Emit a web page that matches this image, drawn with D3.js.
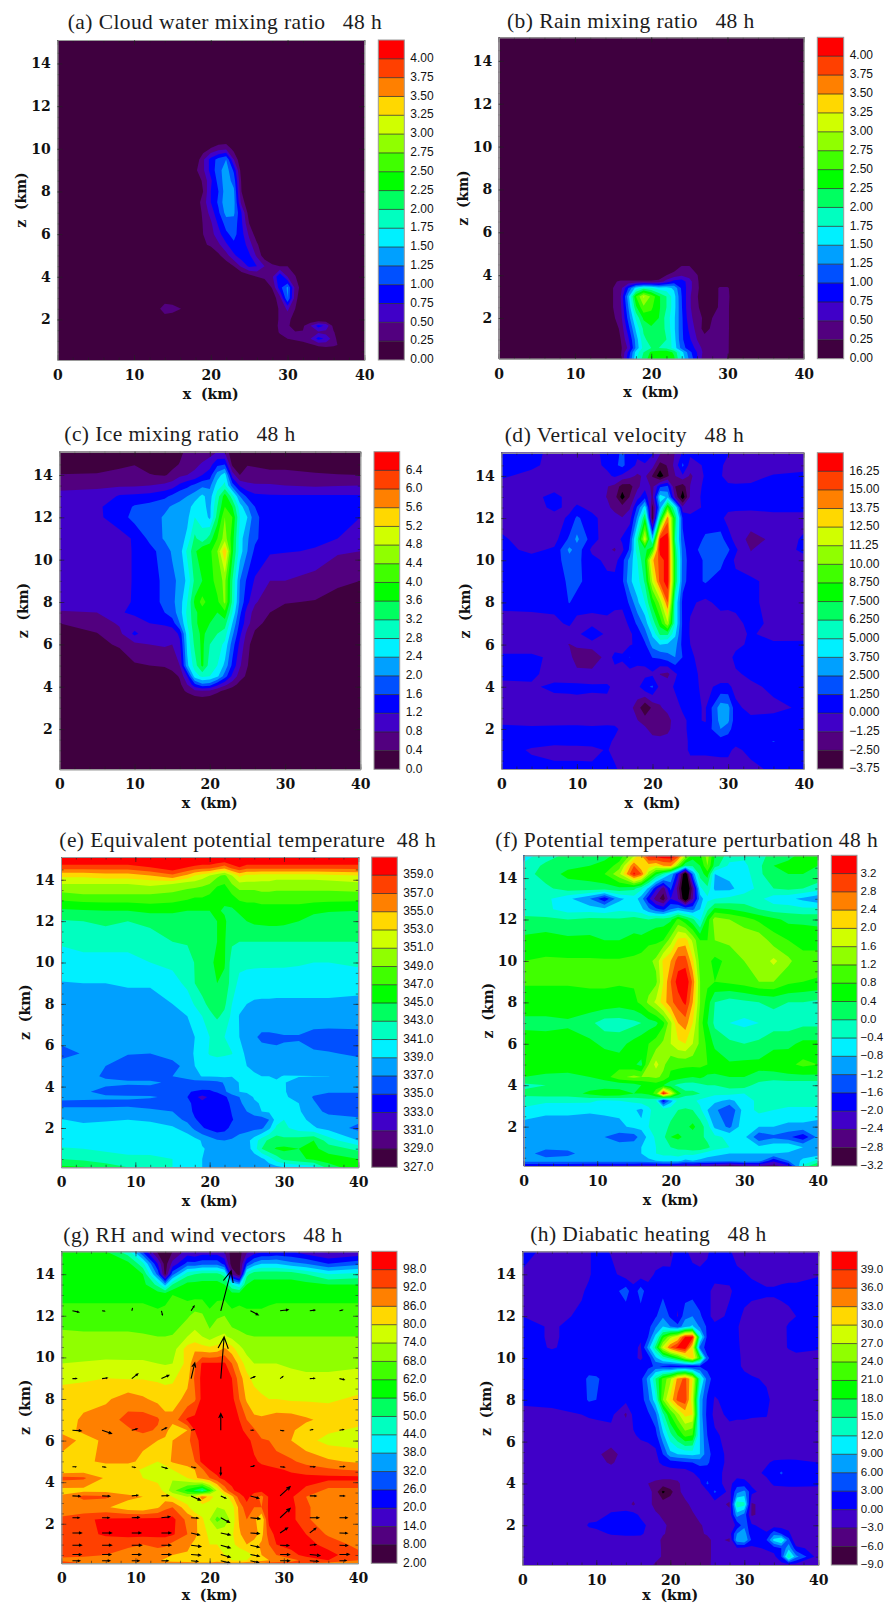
<!DOCTYPE html>
<html>
<head>
<meta charset="utf-8">
<script src="https://cdn.jsdelivr.net/npm/d3@7"></script>
<style>
  body { margin: 0; background: #fff; }
  svg { display: block; }
  .title { font-family: "Liberation Serif", serif; font-size: 21.5px; fill: #1c1c1c; white-space: pre; }
  .axis text, .axis-label { font-family: "DejaVu Serif", serif; font-weight: bold; font-size: 14px; fill: #111; }
  .axis-label { white-space: pre; }
  .axis line { stroke: #222; stroke-width: 0.6; }
  .axis path { stroke: #9a9a9a; stroke-width: 1; }
  .bar-label { font-family: "Liberation Sans", sans-serif; fill: #111; }
</style>
</head>
<body>
<svg id="chart" width="885" height="1604"></svg>
<script>
const bandColors = ["#3f003f", "#52007f", "#4000c8", "#0000ff", "#0050ff", "#00a0ff", "#00f0ff", "#00ffc0", "#00ff60",
    "#00ff00", "#40ff00", "#90ff00", "#d0ff00", "#ffd800", "#ff8000", "#ff4000", "#ff0000"];

// (a) cloud water
const titleA = "(a) Cloud water mixing ratio   48 h";
const labelsA = ["0.00","0.25","0.50","0.75","1.00","1.25","1.50","1.75","2.00","2.25","2.50","2.75","3.00","3.25","3.50","3.75","4.00"];
const xA = [0,13,14,15,18,19,20,21,22,23,24,25,26,27,28,29,30,31,32,33,34,35,36,37,40];
const zA = [15.1,10.5,10,9.5,9,8.5,8,7.5,7,6.5,6,5.5,5,4.5,4,3.5,3,2.5,2,1.7,1.4,1.1,.8,.5,.1];
const gridA = [
[0,0,0,0,0,0,0,0,0,0,0,0,0,0,0,0,0,0,0,0,0,0,0,0,0],
[0,0,0,0,0,0,0,0,0,0,0,0,0,0,0,0,0,0,0,0,0,0,0,0,0],
[0,0,0,0,0,.1,.27,.4,.45,.15,0,0,0,0,0,0,0,0,0,0,0,0,0,0,0],
[0,0,0,0,.05,.45,.85,1.1,1.25,.5,0,0,0,0,0,0,0,0,0,0,0,0,0,0,0],
[0,0,0,0,.2,.45,.85,1.15,1.4,.95,.1,0,0,0,0,0,0,0,0,0,0,0,0,0,0],
[0,0,0,0,.05,.3,.7,1.1,1.4,1.15,.2,0,0,0,0,0,0,0,0,0,0,0,0,0,0],
[0,0,0,0,0,.25,.75,1,1.4,1.3,.25,0,0,0,0,0,0,0,0,0,0,0,0,0,0],
[0,0,0,0,.1,.35,.75,1.05,1.45,1.35,.4,0,0,0,0,0,0,0,0,0,0,0,0,0,0],
[0,0,0,0,.05,.3,.6,.95,1.35,1.3,.75,.1,0,0,0,0,0,0,0,0,0,0,0,0,0],
[0,0,0,0,0,.27,.45,.8,1.1,1.15,.8,.25,0,0,0,0,0,0,0,0,0,0,0,0,0],
[0,0,0,0,0,.25,.4,.65,.95,1.08,.85,.45,.1,0,0,0,0,0,0,0,0,0,0,0,0],
[0,0,0,0,0,.2,.3,.45,.7,.95,.95,.6,.3,0,0,0,0,0,0,0,0,0,0,0,0],
[0,0,0,0,0,0,0,.2,.4,.7,.9,.8,.45,.1,0,0,0,0,0,0,0,0,0,0,0],
[0,0,0,0,0,0,0,0,.1,.25,.55,.8,.75,.5,.3,.25,.25,.1,0,0,0,0,0,0,0],
[0,0,0,0,0,0,0,0,0,0,0,.1,.25,.3,.45,1,.5,.27,0,0,0,0,0,0,0],
[0,0,0,0,0,0,0,0,0,0,0,0,0,.05,.27,.9,1.3,.4,.1,0,0,0,0,0,0],
[0,0,0,0,0,0,0,0,0,0,0,0,0,0,.1,.4,1.25,.35,0,0,0,0,0,0,0],
[0,.1,.48,.4,0,0,0,0,0,0,0,0,0,0,.05,.3,.55,.25,0,0,0,0,0,0,0],
[0,0,0,0,0,0,0,0,0,0,0,0,0,0,.05,.3,.35,.1,0,0,0,0,0,0,0],
[0,0,0,0,0,0,0,0,0,0,0,0,0,0,0,.35,.3,.1,.2,.5,.85,.7,.15,0,0],
[0,0,0,0,0,0,0,0,0,0,0,0,0,0,0,.3,.27,.27,.27,.35,.45,.4,.28,0,0],
[0,0,0,0,0,0,0,0,0,0,0,0,0,0,0,.1,.25,.3,.35,.5,.85,.7,.35,.05,0],
[0,0,0,0,0,0,0,0,0,0,0,0,0,0,0,0,.05,.1,.15,.2,.3,.35,.3,.2,0],
[0,0,0,0,0,0,0,0,0,0,0,0,0,0,0,0,0,0,0,0,0,0,0,0,0],
[0,0,0,0,0,0,0,0,0,0,0,0,0,0,0,0,0,0,0,0,0,0,0,0,0]];

// (b) rain
const titleB = "(b) Rain mixing ratio   48 h";
const labelsB = labelsA;
const xB = [0,15,16,17,18,19,20,21,22,23,24,25,26,27,28,29,30,31,32,40];
const zB = [15.1,4.8,4.4,4,3.7,3.4,3,2.5,2,1.5,1,.6,.4,.1];
const gridB = [
[0,0,0,0,0,0,0,0,0,0,0,0,0,0,0,0,0,0,0,0],
[0,0,0,0,0,0,0,0,0,0,0,0,0,0,0,0,0,0,0,0],
[0,0,0,0,0,0,0,0,0,.1,.27,.27,.05,0,0,0,0,0,0,0],
[0,0,0,0,0,0,0,0,.25,.35,.45,.4,.27,.05,0,0,0,0,0,0],
[0,.2,.3,.3,.3,.3,.3,.35,.6,.85,.9,.6,.3,.05,0,0,0,0,0,0],
[0,.25,.4,1,1.6,1.9,1.8,1.6,1.6,1.45,.95,.6,.3,.1,.05,.3,.3,.03,0,0],
[0,.25,.5,1.4,2.5,3.05,2.7,2.3,2,1.6,1,.55,.27,.1,.05,.3,.32,.05,0,0],
[0,.25,.45,1.25,2.2,2.7,2.55,2.3,2,1.6,1.02,.55,.3,.1,.1,.3,.3,.05,0,0],
[0,.2,.4,1.1,1.8,2.3,2.4,2.25,1.9,1.55,1.05,.6,.35,.2,.25,.32,.3,.05,0,0],
[0,.1,.3,.9,1.55,2.05,2.2,2.15,1.95,1.55,1.05,.7,.4,.15,.3,.35,.3,.05,0,0],
[0,0,.25,.7,1.35,1.95,2.1,2.1,2,1.6,1.05,.8,.5,.35,.45,.35,.3,.02,0,0],
[0,0,.2,.55,1.3,1.85,2,2,1.95,1.65,1.15,.85,.7,.35,.5,.35,.3,0,0,0],
[0,0,.2,.8,1.6,2,2.3,2.4,2.4,2.2,1.6,1.1,.75,.4,.35,.3,.3,0,0,0],
[0,0,.25,.9,1.7,2.1,2.4,2.5,2.5,2.3,1.7,1.2,.8,.3,.35,.3,.25,0,0,0]];

// (c) ice
const titleC = "(c) Ice mixing ratio   48 h";
const labelsC = ["0.0","0.4","0.8","1.2","1.6","2.0","2.4","2.8","3.2","3.6","4.0","4.4","4.8","5.2","5.6","6.0","6.4"];
const xC = [0,5,8,10,12,14,15,16,17,18,19,20,21,22,23,24,25,26,28,30,34,37,40];
const zC = [15.1,14.5,14,13.5,13,12.5,12,11,10.4,9,8,7.5,7,6.5,6,5,4.5,4.1,3.8,3.4,.1];
const gridC = [
[0,0,0,0,0,0,.1,.3,.5,.5,.55,.6,.8,.7,.1,0,0,0,0,0,0,0,0],
[.1,.15,.3,.38,.25,.2,.3,.42,.55,.7,.85,1.05,1.5,1.6,.3,.3,.38,.35,.3,.3,.2,.15,.1],
[.42,.45,.55,.6,.42,.36,.5,.7,.8,.9,1.2,1.4,2.2,2.6,1,.4,.55,.55,.5,.5,.45,.42,.4],
[.75,.75,.75,.75,.8,.9,1,1.3,1.5,1.7,1.9,1.9,2.6,2.9,1.8,1.15,.9,.85,.85,.8,.75,.78,.8],
[.85,.9,1.25,1.3,1.35,1.5,1.7,1.9,2,2.2,2.5,2.2,3,3.8,3,2,1.5,1.3,1.25,1.25,1.25,1.25,1.25],
[.9,1.15,1.35,1.65,1.75,1.9,2.05,2.1,2.2,2.6,2.5,2.3,3.2,4,3.6,2.6,2.05,1.6,1.3,1.3,1.3,1.3,1.3],
[.9,1.12,1.4,1.75,1.8,2.05,2.1,2.1,2.3,2.8,2.7,2.3,3.4,4.4,4,2.8,2.4,1.7,1.35,1.3,1.25,1.22,1.2],
[.9,.95,1.05,1.25,1.7,2.05,2.1,2.2,2.5,3.3,2.9,3.4,4,4.6,3.8,2.6,2.05,1.7,1.25,1.25,1.25,1.2,.9],
[.9,.95,1,1.25,1.45,1.8,2.05,2.2,2.9,3.5,4,3.9,4.4,5.6,3.7,2.6,2,1.5,1.25,1.22,1.18,.85,.8],
[.9,.95,1,1.25,1.5,1.65,1.9,2.1,2.5,3.3,3.6,3.8,4.2,4.5,3.2,2,1.5,1.15,.8,.8,.6,.45,.4],
[.9,.95,1.05,1.25,1.5,1.65,1.9,2.2,2.8,3.7,4.15,3.8,3.9,4.5,3.1,1.9,1.3,.85,.55,.42,.38,.3,.2],
[.78,.8,1.15,1.3,1.4,1.6,1.8,2.2,2.9,3.5,3.8,3.7,3.6,3.9,2.8,1.7,1,.65,.4,.3,.2,.1,0],
[.4,.6,.85,.95,1.2,1.3,1.4,2,2.8,3.5,3.8,3.6,3.5,3.4,2.4,1.5,.95,.5,.3,.1,0,0,0],
[.3,.38,.7,1.3,.9,.85,.9,1.3,2.6,3.4,3.7,3.4,3.2,3,2.1,1.3,.65,.35,.1,0,0,0,0],
[.1,.3,.45,.7,.8,.85,.8,1.1,2.5,3.3,3.7,3.2,3,2.7,1.8,1.1,.5,.2,0,0,0,0,0],
[0,.05,.15,.35,.4,.45,.6,.8,2.3,3,3.7,3,2.8,2.3,1.5,.85,.42,.1,0,0,0,0,0],
[0,0,0,0,0,.1,.2,.45,1.2,2.6,2.9,2.8,2.5,1.8,1.1,.6,.3,0,0,0,0,0,0],
[0,0,0,0,0,0,0,.3,.8,1.5,1.9,1.8,1.3,.9,.6,.25,0,0,0,0,0,0,0],
[0,0,0,0,0,0,0,.2,.5,.7,.75,.7,.5,.3,.1,0,0,0,0,0,0,0,0],
[0,0,0,0,0,0,0,0,.05,.2,.25,.2,.1,0,0,0,0,0,0,0,0,0,0],
[0,0,0,0,0,0,0,0,0,0,0,0,0,0,0,0,0,0,0,0,0,0,0]];

// (d) vertical velocity
const titleD = "(d) Vertical velocity   48 h";
const labelsD = ["−3.75","−2.50","−1.25","0.000","1.250","2.500","3.750","5.000","6.250","7.500","8.750","10.00","11.25","12.50","13.75","15.00","16.25"];
const xD = [0,4,7,9,10,12,14,15,16,17,18,19,20,21,22,23,24,25,27,29,30,31,33,36,40];
const zD = [15.1,14.5,14,13.5,13,12.5,12,11,10.5,10,9,8,7,6.5,6,5.4,4.6,4,3,2.4,2,1.4,1,.1];
const gridD = [
[.5,.5,-.5,-.5,-.5,-.3,.3,.8,1.5,.6,.2,1.5,.2,-1,-2,-1.2,.2,.3,.4,.2,.1,-.3,-.5,-.5,-.5],
[.5,.3,-.5,-.6,-.6,-.5,.3,1,1.6,.5,-.2,-.3,-.8,-3,-2.4,-.8,1.5,-.6,.2,.2,-.4,-.6,-.7,-.7,-.6],
[.2,-.4,-.6,-.6,-.6,-.5,-.3,.2,-.3,-.8,-1.5,-1,-2.6,-4.6,-2.7,-1.3,-.2,-1.5,.2,.1,-.4,-.6,-.4,.1,.4],
[-.5,-.6,-.6,-.5,-.4,-.5,-1.2,-1.6,-3.1,-3,-1.6,-.4,-1.6,1,1.5,-2.5,-3.2,-1.2,.4,.3,.2,.2,.2,.4,.4],
[-.6,-.5,.5,-.5,-.5,-.6,-1.3,-2,-4.4,-2.4,-.5,.8,-1.6,4.5,3.5,-1.5,-4.6,-1,.5,.4,.3,.3,.4,.4,.4],
[-.6,-.6,.3,-.3,.2,-.3,-1,-1.6,-1.9,-1.4,1.5,4.5,-3,3,9,5,-.8,-.5,.2,.3,.3,.2,.2,.4,.4],
[-.5,-.6,-.5,.2,1.5,.3,-.5,-.8,-1.2,-.5,2.8,7.5,-3.4,6.5,14.5,7,1,.3,.5,.3,-.4,-.4,-.5,-.5,-.5],
[.2,-.6,-.5,1.5,2.8,.6,-.8,-.6,.2,1.2,6,12,3.8,16.5,17,6,1.5,.2,1.5,1.8,.5,-.4,-1.7,-1,.2],
[.4,-.3,.2,2.8,2,-.3,-1,-1.4,-.3,1.5,6,7,9,17,17,7,1.8,.5,2,2.3,1.5,.2,-1.3,-.6,.2],
[.5,.5,.6,2,1.6,.4,-.3,-.5,.8,3,5,7.5,13.5,15.5,17,7.5,2,.6,1.4,1.8,.6,-.2,-1,-.5,-.3],
[.5,.5,.5,1.5,1.6,.6,.3,.4,1,3.5,4.5,6.5,11.5,15.5,17,7.5,1.8,.6,1.4,.5,.4,.3,.3,-.5,-.5],
[.4,.5,.4,1.3,.8,.4,1,.7,.3,1.5,3.5,5,8,10.5,15,5,.8,.2,-.3,.4,.4,.4,.3,-.5,-.5],
[-.6,-.6,-.3,.2,-.5,-.4,-.6,-1.2,-.6,.3,1.5,3,5.5,8,11,5,.9,-.1,-.5,-.6,-.7,-.4,.4,-.3,-.5],
[-.8,-.8,-.7,-.6,-.4,1.2,-.4,-.5,-.5,-.2,.5,2,4,6.5,6.5,4,.8,-.1,-.6,-.7,-.7,-.6,.2,-.6,-.5],
[-.8,-.8,-.7,-1.3,-1,-.7,-.5,-.6,-.5,-.1,.2,1,3,3.8,3.5,3,.8,0,-.7,-.8,-.8,-.4,.3,.3,.3],
[.3,.3,-.3,-.8,-2,-2.2,-.7,.4,.2,1.3,.3,.5,1.3,1.5,2,2.5,1.2,.3,-.8,-.7,-.5,.4,.4,.4,.4],
[.3,.3,-.6,-.7,-.8,-.8,-.7,-.5,-.6,-.6,-.3,-.4,-.2,-1.3,-1.6,-.2,.6,.3,-.3,-.7,-.7,-.2,.3,.4,.4],
[-.3,-.2,.3,.3,.3,.2,.2,-.3,-.5,-.6,-.4,1,1.4,-.4,-.5,.2,.3,.4,-.3,.3,.3,-.4,-.3,.3,.4],
[-.7,-.7,-.7,-.6,-.5,-.5,-.4,-.4,-.6,-.9,-1.8,-3.7,-2.2,-1.4,-.8,-.5,.2,.3,-.1,3.2,3,.3,-.4,-.3,.2],
[-.3,-.4,-.6,-.5,-.5,-.8,-.5,-.5,-.6,-.7,-1.2,-1.8,-2.2,-2,-1.8,-.6,-.3,.3,-.1,3,2.8,.4,.3,.4,.4],
[.3,.2,.4,.4,.4,.4,.4,.3,-.3,-.5,-.7,-1,-1.8,-2,-1.6,-.6,-.4,.4,.4,2.5,1.8,.4,.4,.4,.3],
[.4,.3,.3,.4,.4,.4,.3,-.2,-.3,-.5,-.5,-.6,-.7,-.7,-.7,-.5,-.4,.2,.4,.6,.5,.4,.6,1.3,.4],
[.4,-.1,-.4,-.4,-.4,-.3,.1,-.4,-.5,-.5,-.5,-.6,-.6,-.6,-.6,-.4,-.4,.2,.2,.3,.3,-.3,.4,.5,.4],
[.3,.3,.3,.3,.3,.2,.3,.2,-.4,-.5,-.5,-.5,-.5,-.5,-.5,-.5,-.5,-.5,-.5,-.5,-.5,-.3,-.4,.3,.4]];

// (e) equivalent potential temperature
const titleE = "(e) Equivalent potential temperature  48 h";
const labelsE = ["327.0","329.0","331.0","333.0","335.0","337.0","339.0","341.0","343.0","345.0","347.0","349.0","351.0","353.0","355.0","357.0","359.0"];
const xE = [0,3,6,9,12,15,17,18,19,20,21,22,23,24,25,26,27,28,29,30,32,34,36,40];
const zE = [15.1,14.6,14.2,13.8,13.3,12.5,12,11,10,9,8,7.4,6.4,5.6,5,4.5,4.2,3.75,3.5,3.2,2.8,2.4,2,1.4,1,.5,.1];
const gridE = [
[362,362,362,362,362,362,362,362,362,362,362,362,362,362,362,362,362,362,362,362,362,362,362,362],
[358,358,358,358,359,360.5,359,358.5,358,358,357,356,358,359,358,358,358,358,358,358,358,358,358,358],
[353.5,353.5,354,354,355,356.5,354.5,353,352,351,349.5,348.5,351,353.5,352.5,352.5,352,352,352,352,352,352,352.5,353],
[351,351,351,351,351.5,351,350,350,349.5,349,347.5,347,349,350.5,350.5,350.5,350.5,350.5,350,350,350,350,350,350.5],
[348.5,349,349,349,349,348.5,348,347.5,347.5,347,345.5,345.5,347,348,348,348,348.5,348.5,348.5,348.5,348.5,348.5,348.5,348.5],
[344.6,344.8,345,345,345.5,345.5,345,345,345,345,345.2,344.8,344.5,345.5,346,346,346,346,346,346,346,345.5,345.2,345],
[342.8,343,343.5,343,343.5,343.5,344,344,344,344,345,345.3,344,344,345,345.4,345.5,345.6,345.6,345.5,345,344,343.5,343.2],
[341.2,341.5,341.5,341.5,342,343,343.2,343.3,343.5,343.7,345,345.2,343.3,343,343,343,343,343,343,343,343,343,343,343],
[340.2,340.5,340.5,340.5,341,341.5,342,343.1,343.6,344.8,345.2,345.2,342,341.5,341.5,341.5,341.5,341.5,341.5,341.5,341.3,341,341,341.5],
[338.9,339,339,339.2,339.2,340.2,341.5,343,343.8,344.2,345,344.5,342,340.5,340,339.8,339.6,339.6,339.5,339.5,339.5,339.5,339.5,339.3],
[338.2,338.3,338.3,338.3,338.3,339,340,341.2,342.5,343.5,344,343.4,341,339.5,339,338.8,338.8,338.8,338.8,338.8,338.8,338.8,338.8,338.8],
[337,337,337.1,337,337,337.3,339,340,341,342.5,343.3,342.5,340.5,338.9,338.2,338,338,338,338,338,338,338,338,338],
[337.5,337.5,337.5,337.6,337.6,337.6,338,339,340,341,341.4,341,340,339,337.8,337.2,336.7,336.7,336.8,336.9,336.9,336.4,336.3,336.4],
[336.5,337.1,337.5,337.1,337,337.6,338.2,339.2,340,341.2,341.5,341.3,341.1,339.5,338.7,338,337.6,337.4,337.2,337.2,337.3,337.2,337.1,336.8],
[337.6,337.5,337,336,335.7,336.5,337.5,339,339.5,339.7,339.8,339.8,339.5,339.2,339,338.7,338.2,337.8,337.6,337.6,337.5,337.5,337.5,337.5],
[337.6,337.5,336.8,336.5,336.5,337,337.5,338.5,339.1,339.1,339.2,339.3,339.1,341.1,339.3,339.2,339,339,338.8,339.1,339.1,339.05,339.02,338.5],
[337.3,337.3,337.3,337.2,337.2,336.8,336.4,336.2,336.1,336.2,336.4,337.2,338,339.1,339.3,339.2,339.2,339,339.2,339.1,338.3,338,338,338],
[337.4,337.2,336.6,336.4,336.5,336.5,335.1,334.9,334.7,334.7,335.2,336.7,337.9,339,339.3,339.2,339.3,339.1,339.2,339.1,338.4,337.6,337.2,337.2],
[337.4,337.3,337.2,337.2,337.1,336.8,335,333.4,332.4,333.3,333.5,334.5,336.2,337,338,339.2,339.5,339.3,339.1,339.2,338.5,336.8,336,336],
[336.7,336.7,336.7,336.7,336.6,336.9,336,334,333.5,333.4,333.5,333.8,335.7,336.7,337.6,338.7,339.2,339.3,339.3,339.2,339,337.2,336,335.8],
[337.3,337.3,337.3,337.4,337.2,337,336,334.5,333.6,333.4,333.3,333.4,335.2,336.3,337,338,339,339.3,339.2,339.2,339.2,337.8,336.4,335.6],
[339.1,338.6,338.8,339,338.8,337.9,336.5,335.2,334.4,333.8,333.3,333.4,334.8,336,336,336,335.9,337,340,341,339.5,338.5,338,337.6],
[339.5,339.6,339.7,339.7,339.6,339.3,338,336.5,335.2,334.4,333.8,334.2,335.7,336.5,336.3,336.4,336.6,338.5,341.5,341.5,340,339.2,338.3,336.4],
[340,340,340,340,340,340,340.3,339.7,338.8,338,337.2,337,337.2,337.5,338.3,340,342,343.5,344,343.5,344,345,342,339],
[341.2,341,340.6,340.3,340.2,340,339.8,339.5,339.1,338.8,338.5,338,337.6,337.3,338,340,343,344.5,345.2,345.5,345,345.5,344,342.5],
[343,342.5,342,341.5,341.5,341,340,339.5,339,338.5,338.3,338.2,338,337.7,337.5,337.8,338.5,340,342,343.5,344.5,345.5,346,345],
[345.5,345.2,344,343,342,341,340.2,339.5,339,338.7,338.3,338,337.8,337.6,337.5,337.6,337.8,338,338.5,339,339.5,340,344,346.5]];

// (f) potential temperature perturbation
const titleF = "(f) Potential temperature perturbation 48 h";
const labelsF = ["−3.2","−2.8","−2.4","−2.0","−1.6","−1.2","−0.8","−0.4","0.0","0.4","0.8","1.2","1.6","2.0","2.4","2.8","3.2"];
const xF = [0,3,6,9,11,13,15,16,17,18,19,20,21,22,23,24,25,26,28,30,32,34,36,38,40];
const zF = [15.1,14.6,14.2,13.5,13,12.5,12,11,10,9,8,7,6,5,4.4,4,3.6,3.25,2.8,2,1.5,1,.7,.35,.1];
const gridF = [
[-.6,-.2,.1,.3,.3,.5,1.5,2.4,3.4,3.5,3.5,3.5,3.2,1.6,.6,.7,1.4,.4,-.2,-.3,-.2,.2,.3,.5,.4],
[-.3,.1,.3,.4,.5,1,2.8,2,2.2,2,2.4,2.5,1.2,0,.1,.4,1.2,.2,-.5,-.5,-.1,.4,.5,.5,.4],
[-.2,.2,.5,.6,.8,1.5,3.3,2.8,1.4,.5,-.1,-.8,-1.9,-3.8,-1.2,.2,.6,-.8,-.7,-.6,-.1,.3,.4,.4,.3],
[0,-.1,.2,.2,.2,.3,.1,-.3,-.9,-1.9,-2.6,-1.5,-2.6,-4,-2.6,-.5,-.1,-.9,-.9,-.6,-.3,0,.1,0,-.2],
[-.1,-.3,-.7,-1.2,-1.9,-.9,-.6,-1,-1.9,-2.6,-3,-2,-2.4,-3.7,-2.4,-1,-.5,-.4,-.3,-.2,-.3,-.6,-.7,-.9,-1.1],
[-.2,-.3,-.6,-.6,-.7,-.5,-.6,-.7,-1.1,-1.5,-1.7,-1.2,-1,-1.2,-1.3,-.8,-.1,.5,.4,.2,0,-.2,-.2,-.3,-.3],
[.1,.1,0,.1,.1,.05,.2,.1,0,.2,.2,.3,.9,.5,.1,-.5,.6,1.4,1.2,1,.7,.5,.3,.3,.3],
[.5,.6,.5,.5,.4,.4,.5,.5,.7,.7,.8,1.4,2.1,2.2,1.5,.8,.8,1.2,1.3,1.5,1.5,1,.8,.7,.6],
[.8,.85,.85,.85,.85,.85,.9,1,1.1,1.3,2.1,2.4,3,3,2.1,1,.9,.7,.9,1.2,1.3,1.7,1.3,.9,1],
[.85,.85,.85,.85,.85,.85,.85,.9,1,1.1,2,2.8,3.4,3.6,2.7,1.2,.9,.8,.9,1,1.2,1.2,.9,.8,.75],
[.6,.6,.6,.7,.7,.6,.7,.9,1.3,1.7,2.2,2.7,3,3.3,2.4,1.2,.6,0,-.2,-.1,0,.1,0,0,-.1],
[.3,.3,.35,.1,-.2,-.2,-.1,0,.2,.3,.7,1.5,2.4,2.6,2,1,.4,-.1,-.4,-.5,-.4,-.2,-.2,-.1,-.1],
[.6,.55,.55,.5,.3,.25,.55,.7,.8,1,1.3,1.6,1.9,2,1.6,1.1,.7,.3,.1,0,.1,.3,.3,.5,.5],
[.7,.7,.6,.6,.7,.6,.45,.3,1.2,1.75,1.3,.9,.9,.9,.9,.9,.8,.7,.45,.5,.5,.65,.7,.9,.8],
[.4,.3,.3,.4,.6,1.1,1.3,1.2,1.2,1.3,1.1,.7,.6,.5,.4,.5,.3,.3,.4,.4,.3,.2,.3,.3,.3],
[-.1,0,0,.2,.1,.1,.2,.4,.5,.6,.4,.1,-.1,-.2,-.2,-.1,0,0,.2,.2,-.2,-.3,-.3,-.3,-.3],
[.1,.2,.2,.5,.8,.7,.4,.4,.5,1,3.4,2,.6,.1,.1,0,-.2,-.3,-.3,-.4,-.3,-.2,-.1,-.1,-.1],
[-.2,-.3,-.3,-.3,-.5,-.4,-.3,-.2,-.2,-.4,-1.9,-1,-.3,-.2,-.3,-.5,-.6,-.7,-.9,-.6,-.3,-.2,-.2,-.2,-.2],
[-.5,-.7,-.7,-.75,-.75,-.7,-.75,-.9,-.5,-.2,-.1,-.1,0,.05,0,-.3,-.8,-1.1,-1.6,-.6,-.3,-.4,-.5,-.5,-.5],
[-1,-1,-1,-1,-.9,-.9,-.7,-.7,-.4,-.3,-.1,.05,.2,.3,.5,.2,-.2,-.9,-1.3,-.5,-.8,-.8,-.9,-.9,-1],
[-1.1,-1.1,-1.1,-1.1,-1.2,-1.4,-1.4,-1,-.7,-.3,-.1,.4,.5,.3,.2,.1,-.1,-.3,-.5,-.7,-1.5,-1.3,-1.5,-1.9,-1.1],
[-1.1,-1.1,-1.1,-1.1,-1.1,-1,-.9,-.8,-.6,-.4,-.2,0,.1,.2,.3,.3,.1,-.2,-.4,-.5,-.7,-.5,-.4,-.8,-1],
[-1,-1.4,-1.3,-1,-1,-1,-1,-.8,-.6,-.4,-.3,-.3,-.2,-.3,-.3,-.4,-.6,-.7,-.8,-.8,-.8,-.8,-.9,-1,-1],
[-1,-1,-1,-1,-1,-1,-1,-1,-.9,-.8,-.7,-.7,-.7,-.9,-.8,-.9,-1,-1,-1,-.9,-1,-1.9,-1.2,-.7,-.3],
[-2,-2,-2,-2.1,-2.1,-2.1,-2.1,-2.2,-2.2,-2.2,-2.2,-2.2,-2.3,-2.4,-2.4,-2.5,-2.5,-2.6,-2.9,-2.6,-2.4,-2.6,-2.1,-.3,.5]];

// (g) RH and wind vectors
const titleG = "(g) RH and wind vectors   48 h";
const labelsG = ["2.00","8.00","14.0","20.0","26.0","32.0","38.0","44.0","50.0","56.0","62.0","68.0","74.0","80.0","86.0","92.0","98.0"];
const xG = [0,3,6,9,11,13,14,15,17,18,19,20,21,22,23,24,25,26,27,28,29,31,33,36,40];
const zG = [15.1,14.5,14,13.5,13,12,11,10.4,9.7,9,8,7,6.5,6,5,4.6,4.2,3.6,3.3,2.8,2.2,1.5,1,.5,.25,.1];
const gridG = [
[58,58,56,46,25,6,5,8,16,14,16,16,16,14,5,6,12,16,18,18,20,20,16,12,14],
[58,58,58,58,46,20,5,16,28,28,30,30,30,24,4,6,26,34,38,38,38,34,32,26,30],
[58,58,58,58,56,30,6,30,48,50,52,52,52,48,14,5,48,54,54,54,54,54,50,44,46],
[58,58,58,58,58,48,36,50,58,58,58,58,58,56,44,38,56,58,58,58,58,58,58,56,56],
[60,60,60,60,60,60,61,62,60,60,60,60,60,60,60,61,60,60,60,60,60,60,60,60,60],
[65,65,65,65,65,63,63,63,67,70,69,63,67,68,63,63,63,63,63,64,65,65,65,65,65],
[69.5,69,69,69,68.5,68,68,68.5,74,76,74,71,74,75,72,70,68.5,68,68,68,68,68,68,68,68],
[71,71,71.5,71,71,70.5,70,71,83,85,83,82,83,87,83,76,72,71,71,71,71,71,71,71,71],
[74,74.5,75,75,75,74,73.5,74,82,91,99,99,99,99,92,84,77,74,74,74,74,73,72,72,73],
[78.5,79,80,79.5,79.5,79,78.5,79,84,93,100,100,100,100,98,89,82,78,77,76.5,76.5,76,75.5,75.5,76],
[83,84,85,89,87,84,83,83,88,91,100,100,100,100,100,92,85,83,81,80,80,79,79,79,81],
[83,87,89,94,95,93,88,88,99,100,100,100,100,100,100,98,92,87,87,88,89,89,87,84,82],
[84,87,88,91,94,91,88,83,86,98,100,100,100,100,100,100,96,93,88,86,86,87,83,81,79],
[90,84,87,87,87,86,85,86,90,96,100,100,100,100,100,100,100,96,93,92,90,86,82,78,77],
[83,85,87,87,85,80,83,87,90,92,100,100,100,100,100,100,100,99,97,95,94,93,90,87,85],
[80,82,83,83,79,76,77,80,83,86,91,98,100,100,100,100,100,100,100,100,99,97,95,93,91],
[94,93,85,82,80,78,75,75,80,85,88,92,97,100,100,100,100,100,100,100,100,100,100,100,100],
[84,84,84,82,83,83,78,70,60,55,48,60,75,88,97,100,100,100,100,100,100,100,97,90,90],
[87,94,93,88,86,84,83,80,74,78,90,84,76,76,84,95,100,95,90,99,100,99,92,89,89],
[86,87,87,82,81,85,90,92,82,74,76,74,74,75,77,88,96,92,92,99,100,100,93,88,88],
[94,97,99,100,100,100,100,100,90,88,81,74,66,70,76,87,92,88,80,100,100,100,93,88,88],
[94,96,99,100,100,100,100,99,92,88,82,79,78,78,79,85,90,88,84,95,100,100,98,91,87],
[93,94,94,93,92,93,93,90,88,84,82,80,80,79,78,83,86,84,87,92,98,100,100,96,90],
[93,93,92,90,90,90,88,86,85,83,81,80,80,80,77,74,77,81,86,88,92,96,100,100,94],
[91,90,89,88,87,87,85,84,83,82,81,81,82,82,80,79,80,82,84,86,88,90,94,98,92],
[94,92,90,88,88,88,88,88,88,88,88,88,90,88,88,88,90,92,92,94,94,94,92,90,90]];
const windX = [1.5,5.5,9.5,13.5,17.5,21.5,25.5,29.5,33.5,37.5];
const windZ = [12.24,8.98,6.5,4.74,3.34,2.29,1.56,.97,.52,.22];
const windU = [
[19,7,2,3,9,31,23,24,15,9],
[12,15,18,22,11,10,13,8,14,14],
[26,28,16,15,9,0,8,10,8,12],
[10,10,10,17,13,0,11,13,15,15],
[23,23,18,21,28,15,25,30,19,15],
[20,21,22,25,21,26,28,30,27,23],
[27,28,27,28,25,28,26,22,18,23],
[27,28,29,28,29,28,26,26,18,24],
[26,26,27,28,28,28,26,28,30,29],
[22,23,22,20,20,28,24,28,25,20]];
const windW = [
[-4,-1,6,-12,14,120,-12,3,2,2],
[0,2,14,10,47,125,6,6,1,-3],
[-2,-10,4,7,2,50,0,-2,2,2],
[0,-1,-2,-5,-3,-24,3,-1,0,1],
[-1,-1,2,1,-13,-7,-7,28,0,0],
[0,0,1,3,-1,-14,-3,28,0,0],
[0,0,0,0,-6,-6,-2,15,14,-1],
[0,0,0,0,-4,-8,-6,-1,2,-1],
[0,0,0,0,-2,-8,-5,0,-3,1],
[0,0,0,0,-2,-7,-5,0,-2,1]];

// (h) diabatic heating
const titleH = "(h) Diabatic heating   48 h";
const labelsH = ["−9.0","−6.0","−3.0","0.00","3.00","6.00","9.00","12.0","15.0","18.0","21.0","24.0","27.0","30.0","33.0","36.0","39.0"];
const xH = [0,4,8,9,10,12,14,15,16,17,18,19,20,21,22,23,24,25,26,28,29,30,31,33,34,35,36,37,40];
const zH = [15.1,14,13.2,12,11.5,11,10.5,10,9.6,9,8,7.3,6.3,5.4,5,4.5,4,3.6,3,2.5,2,1.6,1.3,.9,.5,.1];
const gridH = [
[1,-1,-1.5,-.5,1.5,-.3,-1.5,-1.5,-1.5,-1.5,-1.5,-1.5,-1,1,.5,-1,-1,-.5,1.5,.3,-1,-1.5,-1.5,-1.5,-1.5,-1.5,-1.5,-1.5,-1.5],
[-.3,-1.5,-1.5,-.5,1.5,1,-1.5,-1.5,-1.5,-1,.3,.8,.5,1,1.5,1,.5,1,1.2,1,.6,.2,-.4,-1.5,-1.5,-1.5,-1.5,-1.5,-.3],
[-1.5,-1.5,-.5,.8,1.3,1.3,4.5,1,4.5,1.2,1.5,2,1.5,1,1.2,1.5,1,.8,-1,-.5,1,1,1,.5,.5,1,1.5,1.5,1.5],
[0,-1.5,.8,1.5,1.5,1.5,1,1.2,1.5,1.5,2.5,5.5,2.5,-.3,5,6,3.5,1.2,-1.5,.8,.8,-.5,-1.5,-1.5,-1.5,-1.5,-1,0,1.5],
[1.5,-.5,1.5,1.5,1.5,1.5,1.2,.5,.6,1.8,5.5,9,6,4,8,9.5,5.5,2.5,1.2,.8,.3,-1,-1.5,-1.5,-1.5,-1.2,.5,1,1.5],
[1.5,-.5,1.5,1.5,1.5,1.5,1.2,.5,.3,3,10,20,26,30,39,40,13,2,1.2,.8,.4,-1,-1.5,-1.5,-1.5,-1.1,.4,.8,1],
[1.5,-.3,1.5,1.5,1.5,1.5,1.2,.5,-.3,7,16,28,36,40,41,30,5,1.5,1,.8,.5,-.8,-1.5,-1.5,-1.5,-1,.3,.5,.5],
[1.5,1.5,1.5,1.5,1.5,1,.8,.4,-.3,1,8,13,16,20,26,32,20,3.5,1.5,.8,.5,-.5,-1.5,-1.5,-1.5,-1.5,-1.5,-.5,-1.5],
[1.5,1.5,1.5,1.5,1.5,1,.8,.6,.8,2,3.5,2.5,1.5,1.5,1.5,.8,2.5,2,1.5,.8,.6,-.5,-1.5,-1.5,-1.5,-1.5,-1.5,-1.5,-1.5],
[1.5,1.5,2,3.6,3.4,1.5,1.2,1.5,2,7,15,22,26,34,37,30,14,4.5,1.5,.9,.8,.8,.5,-.5,-1.5,-1.5,-1.5,-1.5,-1.5],
[1,1.5,1.8,3.4,3,1.5,1,1,1.5,5,11,24,31,37,38,28,8,2.5,-.3,1,1.5,1.5,1.5,.8,-1,-1.5,-1.5,-1.5,-1.5],
[-1.5,-1.2,0,.3,.5,.8,-3.5,.8,1.5,2.5,5,14,21,26,31,30,8,2,-.8,.5,.5,.5,.3,.2,-1.5,-1.5,-1.5,-1.5,-1.5],
[-1.5,-1.5,-1.5,-1.5,-1.5,-1.2,-.5,-.3,.5,1,1.8,8,14,18,22,21,9,3,.5,-1,-1.5,-1.5,-1.5,-1.5,-1.5,-1.5,-1.5,-1.5,-1.5],
[-1.5,-1.5,-1.5,-1.5,-2.5,-4,-1.8,-1.5,-1.5,-1.5,-.8,3,8,9,9.5,10,9,4,1.8,-1,-1.5,-1.5,-1.5,-1.5,-1.5,-1.5,-1.5,-1.5,-1.5],
[-1.5,-1.5,-1.5,-1.5,-2,-3.4,-1.5,-1.5,-1.5,-1.5,-.6,.6,1.5,2,2.5,3,4,3.5,1.5,-.8,-1.5,-1.5,-1.5,-.5,.6,.7,.8,.7,0],
[-1.5,-1.5,-1.5,-1.5,-1.5,-1.5,-1.5,-1.5,-1.5,-1.5,-1.5,-1.5,-1.5,-1.5,-1.5,-.2,1,1.5,1.5,-1.5,-1.5,-1.5,-1.5,.8,1.5,3.4,1.5,1.2,1],
[-1.5,-1.5,-1.5,-1.5,-1.5,-1.5,-1.5,-1.5,-1.5,-3,-3.6,-4,-4,-3.5,-1.8,-1.3,-.7,3.5,.8,-.8,1.5,1,-.5,-1.2,.6,.8,1,1,.8],
[-1.5,-1.5,-1.5,-1.5,-1.5,-1.5,-1.5,-1.5,-1.5,-1.5,-4.5,-9.8,-7,-4,-1.5,-1.5,-1.5,-.5,3.5,-1,5,7,.8,-1.5,-1.5,-1.5,-1.5,-1.5,-1.5],
[-1.5,-1.5,-1.5,-1.5,-1.5,-1.5,-1.5,-3.5,-1.5,-2,-4,-4,-4,-4,-4,-2,-1.5,-1.5,-1.5,-3.5,14,13,-3.5,-1.5,-1.5,-1.5,-1.5,-1.5,-1.5],
[-1.5,-1.5,-1.5,-1.5,-1.5,.5,1,1.2,-.7,-1.5,-2.5,-3.5,-4,-4.2,-4,-3.5,-1.8,-1.5,-1.5,-2,7.5,5,-3.5,-1.5,-1.5,-1.5,-1.5,-1.5,-1.5],
[-1.5,-1.5,-1.5,.5,.8,1.5,1.5,1.5,1.2,-.5,-2,-2.5,-3.5,-4.5,-4,-3.8,-3.4,-2,-1.5,-1.5,.5,5,.5,-1.5,-1.5,-1.5,-1.5,-1.5,-1.5],
[-1.5,-1.5,-1.5,-1.5,-1,.3,.8,.8,.6,-1,-2.6,-2.8,-3.5,-3.6,-3.5,-3.5,-3.5,-2.6,-1.6,-1.5,6,8,.3,.4,5,3,.8,-3,-1.5],
[-1.5,-1.5,-1.5,-1.5,-1.5,-1.5,-1.5,-1.5,-1.5,-1.5,-2,-3.5,-4,-4,-4,-4,-4,-4,-2,-3.5,8,9,2.5,3,10,13,4,-3,-1.5],
[-1.5,-1.5,-1.5,-1.5,-1.5,-1.5,-1.5,-1.5,-1.5,-1.5,-1.5,-3.5,-4,-4,-4,-4,-4,-4,-2,-1.5,-.5,-1,-1,.5,1.5,3,8,1,-1.5],
[-1.5,-1.5,-1.5,-1.5,-1.5,-1.5,-1.5,-1.5,-1.5,-1.5,-1.5,-3.5,-4,-4,-4,-4,-4,-4,-2,-1.5,-1.5,-1.5,-1.5,-1.5,-1,3,15,7,-1.5],
[-1.5,-1.5,-1.5,-1.5,-1.5,-1.5,-1.5,-1.5,-1.5,-1.5,-3.7,-4,-4,-4,-4,-4,-4,-4,-1.8,-1.5,-1.5,-1.5,-1.5,-1.5,-1.5,-1.5,-1.5,-1.5,-1.5]];

const panels = [
    {title: titleA, labels: labelsA, xs: xA, zs: zA, grid: gridA, left: 57.3, right: 364.3, top: 40, bottom: 360, barLeft: 378.3, barRight: 404.3, titleX: 67.7, titleEnd: 381.7, titleY: 29},
    {title: titleB, labels: labelsB, xs: xB, zs: zB, grid: gridB, left: 498.7, right: 803.7, top: 37.3, bottom: 358.7, barLeft: 817.3, barRight: 843.7, titleX: 507, titleEnd: 754.3, titleY: 28},
    {title: titleC, labels: labelsC, xs: xC, zs: zC, grid: gridC, left: 59.3, right: 360.3, top: 451.7, bottom: 769.3, barLeft: 374, barRight: 399.7, titleX: 64.3, titleEnd: 295.3, titleY: 440.7},
    {title: titleD, labels: labelsD, xs: xD, zs: zD, grid: gridD, left: 501.3, right: 803.7, top: 452.7, bottom: 769, barLeft: 817.3, barRight: 843.3, titleX: 504.7, titleEnd: 743.7, titleY: 441.7},
    {title: titleE, labels: labelsE, xs: xE, zs: zE, grid: gridE, left: 61, right: 358.3, top: 857, bottom: 1167.3, barLeft: 371.7, barRight: 397.3, titleX: 59.3, titleEnd: 435.7, titleY: 846.7},
    {title: titleF, labels: labelsF, xs: xF, zs: zF, grid: gridF, left: 523.7, right: 817.7, top: 855.3, bottom: 1166, barLeft: 831.3, barRight: 857, titleX: 495.3, titleEnd: 877.7, titleY: 846.7, barGap: 3.5, barFont: 11.5},
    {title: titleG, labels: labelsG, xs: xG, zs: zG, grid: gridG, left: 61.3, right: 358, top: 1251.3, bottom: 1563.3, barLeft: 371.3, barRight: 397, titleX: 63.3, titleEnd: 342.3, titleY: 1241.7, wind: true, xLabelGap: 37},
    {title: titleH, labels: labelsH, xs: xH, zs: zH, grid: gridH, left: 522.3, right: 818.3, top: 1251.3, bottom: 1565, barLeft: 831.3, barRight: 857.3, titleX: 530.3, titleEnd: 766.3, titleY: 1241, barGap: 3.5, barFont: 11.5, xLabelGap: 35}
];

const svg = d3.select("#chart");

function drawPanel(p) {
    const g = svg.append("g");
    const levels = p.labels.map(s => +s.replace("−", "-"));
    const x = d3.scaleLinear().domain([0, 40]).range([p.left, p.right]);
    const z = d3.scaleLinear().domain([0.1, 15.1]).range([p.bottom, p.top]);

    p.grid.forEach((row, i) => {
        if (row.length !== p.xs.length) throw new Error(p.title + " row " + i + " has " + row.length);
    });
    if (p.grid.length !== p.zs.length) throw new Error(p.title + " rows " + p.grid.length);

    // grid index to km, the grid is not evenly spaced
    const colToX = d3.scaleLinear().domain(d3.range(p.xs.length)).range(p.xs).clamp(true);
    const rowToZ = d3.scaleLinear().domain(d3.range(p.zs.length)).range(p.zs).clamp(true);

    // anything under the lowest level is left black
    g.append("rect")
        .attr("x", p.left).attr("y", p.top)
        .attr("width", p.right - p.left).attr("height", p.bottom - p.top)
        .attr("fill", "#000");

    const contours = d3.contours()
        .size([p.xs.length, p.zs.length])
        .thresholds(levels)(p.grid.flat());

    const path = d3.geoPath();
    g.selectAll("path.band")
        .data(contours)
        .enter()
        .append("path")
        .attr("class", "band")
        .attr("fill", (d, i) => bandColors[i])
        .attr("d", d => path({
            type: "MultiPolygon",
            coordinates: d.coordinates.map(poly => poly.map(ring =>
                ring.map(([cx, cy]) => [x(colToX(cx - 0.5)), z(rowToZ(cy - 0.5))])))
        }));

    if (p.wind) drawWind(g, x, z);

    // minor ticks
    const minorX = d3.range(0, 41, 2);
    const minorZ = d3.range(0.5, 15, 0.5);
    const noText = () => "";
    g.append("g").attr("class", "axis").attr("transform", `translate(0,${p.bottom})`)
        .call(d3.axisBottom(x).tickValues(minorX).tickSize(-2.5).tickSizeOuter(0).tickFormat(noText));
    g.append("g").attr("class", "axis").attr("transform", `translate(0,${p.top})`)
        .call(d3.axisTop(x).tickValues(minorX).tickSize(-2.5).tickSizeOuter(0).tickFormat(noText));
    g.append("g").attr("class", "axis").attr("transform", `translate(${p.left},0)`)
        .call(d3.axisLeft(z).tickValues(minorZ).tickSize(-2.5).tickSizeOuter(0).tickFormat(noText));
    g.append("g").attr("class", "axis").attr("transform", `translate(${p.right},0)`)
        .call(d3.axisRight(z).tickValues(minorZ).tickSize(-2.5).tickSizeOuter(0).tickFormat(noText));

    // major ticks and labels
    const majorX = [0, 10, 20, 30, 40];
    const majorZ = [2, 4, 6, 8, 10, 12, 14];
    g.append("g").attr("class", "axis").attr("transform", `translate(0,${p.bottom})`)
        .call(d3.axisBottom(x).tickValues(majorX).tickSize(-5).tickSizeOuter(0).tickPadding(10).tickFormat(d3.format("d")));
    g.append("g").attr("class", "axis").attr("transform", `translate(0,${p.top})`)
        .call(d3.axisTop(x).tickValues(majorX).tickSize(-5).tickSizeOuter(0).tickFormat(noText));
    g.append("g").attr("class", "axis").attr("transform", `translate(${p.left},0)`)
        .call(d3.axisLeft(z).tickValues(majorZ).tickSize(-5).tickSizeOuter(0).tickPadding(6.5).tickFormat(d3.format("d")));
    g.append("g").attr("class", "axis").attr("transform", `translate(${p.right},0)`)
        .call(d3.axisRight(z).tickValues(majorZ).tickSize(-5).tickSizeOuter(0).tickFormat(noText));

    g.append("text")
        .attr("class", "axis-label")
        .attr("x", (p.left + p.right) / 2)
        .attr("y", p.bottom + (p.xLabelGap || 38.5))
        .attr("text-anchor", "middle")
        .text("x  (km)");
    g.append("text")
        .attr("class", "axis-label")
        .attr("transform", `translate(${p.left - 31},${(p.top + p.bottom) / 2}) rotate(-90)`)
        .attr("text-anchor", "middle")
        .text("z  (km)");

    g.append("text")
        .attr("class", "title")
        .attr("x", p.titleX)
        .attr("y", p.titleY)
        .attr("textLength", p.titleEnd - p.titleX)
        .text(p.title);

    drawColorBar(g, p, levels);
}

function drawColorBar(g, p, levels) {
    const bandH = (p.bottom - p.top) / bandColors.length;
    const pos = d3.scaleLinear().domain([0, bandColors.length]).range([p.bottom, p.top]);

    g.selectAll("rect.bar")
        .data(bandColors)
        .enter()
        .append("rect")
        .attr("class", "bar")
        .attr("x", p.barLeft)
        .attr("y", (d, i) => pos(i + 1))
        .attr("width", p.barRight - p.barLeft)
        .attr("height", bandH)
        .attr("fill", d => d);

    g.selectAll("line.bar-line")
        .data(levels.slice(1))
        .enter()
        .append("line")
        .attr("class", "bar-line")
        .attr("x1", p.barLeft).attr("x2", p.barRight)
        .attr("y1", (d, i) => pos(i + 1)).attr("y2", (d, i) => pos(i + 1))
        .attr("stroke", "#222")
        .attr("stroke-width", 0.7);

    g.append("rect")
        .attr("x", p.barLeft).attr("y", p.top)
        .attr("width", p.barRight - p.barLeft).attr("height", p.bottom - p.top)
        .attr("fill", "none")
        .attr("stroke", "#999");

    g.selectAll("text.bar-label")
        .data(p.labels)
        .enter()
        .append("text")
        .attr("class", "bar-label")
        .attr("x", p.barRight + (p.barGap || 6))
        .attr("y", (d, i) => pos(i) - 1)
        .attr("dy", "0.35em")
        .attr("font-size", p.barFont || 12)
        .text(d => d);
}

function drawWind(g, x, z) {
    const arrowScale = 1 / 3;
    const barb = 0.3;
    const spread = 0.42;
    windZ.forEach((zv, r) => {
        windX.forEach((xv, c) => {
            const x0 = x(xv), y0 = z(zv);
            const dx = windU[r][c] * arrowScale, dy = -windW[r][c] * arrowScale;
            const len = Math.hypot(dx, dy);
            const ang = Math.atan2(dy, dx);
            const x1 = x0 + dx, y1 = y0 + dy;
            const head = len * barb;
            const p = d3.path();
            p.moveTo(x0, y0);
            p.lineTo(x1, y1);
            p.moveTo(x1 - head * Math.cos(ang - spread), y1 - head * Math.sin(ang - spread));
            p.lineTo(x1, y1);
            p.lineTo(x1 - head * Math.cos(ang + spread), y1 - head * Math.sin(ang + spread));
            g.append("path")
                .attr("d", p.toString())
                .attr("fill", "none")
                .attr("stroke", "#000")
                .attr("stroke-width", 1.1);
        });
    });
}

panels.forEach(drawPanel);
</script>
</body>
</html>
